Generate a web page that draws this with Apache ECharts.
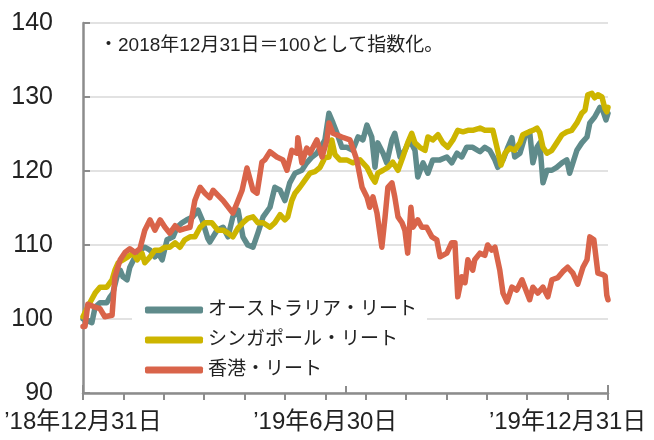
<!DOCTYPE html>
<html>
<head>
<meta charset="utf-8">
<script src="https://cdn.jsdelivr.net/npm/echarts@6/dist/echarts.min.js"></script>
<style>
  html, body { margin: 0; padding: 0; background: #fff; }
  #chart { width: 654px; height: 440px; }
</style>
</head>
<body>
<div id="chart"></div>
<script>
// x = months since 2018/12/31, y = index (2018/12/31 = 100)
var seriesNames = ['オーストラリア・リート', 'シンガポール・リート', '香港・リート'];
var seriesColors = ['#5f8b8b', '#cdb500', '#d9644a'];

var australia = [
  [0,100],[0.05,99.9],[0.22,99.5],[0.30,101.6],[0.42,102.2],[0.59,102.2],[0.67,103],[0.74,103.5],
  [0.84,105.7],[0.92,106.6],[0.99,105.7],[1.09,105.3],[1.16,107],[1.29,108.4],[1.41,109.3],[1.53,109.7],
  [1.66,109.3],[1.78,108.4],[1.86,108.9],[1.96,108],[2.08,110.7],[2.23,111.1],[2.33,112.4],[2.45,113],
  [2.57,113.4],[2.72,113.8],[2.85,114.7],[2.95,113.4],[3.09,110.9],[3.14,110.4],[3.32,112],[3.47,112.4],
  [3.59,111.1],[3.71,113.8],[3.84,114.7],[3.96,111.1],[4.08,110],[4.21,109.7],[4.33,111.6],[4.46,113.8],
  [4.63,115.1],[4.75,117.8],[4.88,117.4],[5.00,116],[5.12,118.4],[5.25,119.7],[5.42,120.1],[5.54,121.1],
  [5.67,121.9],[5.79,122.4],[5.92,123.5],[5.99,124.2],[6.09,127.8],[6.19,126.5],[6.29,125.1],[6.41,123.2],
  [6.53,123.2],[6.68,122.8],[6.81,124.6],[6.93,124.2],[7.03,126.2],[7.15,124.6],[7.23,120.5],[7.30,123.8],
  [7.43,122.4],[7.52,121.1],[7.65,124.2],[7.72,125.1],[7.85,121.9],[7.97,122.8],[8.09,124.2],[8.22,122.8],
  [8.29,119.2],[8.42,121.1],[8.54,119.7],[8.66,121.5],[8.84,121.5],[9.01,121.9],[9.13,121.1],[9.26,122.4],
  [9.38,121.9],[9.50,123.2],[9.65,123.2],[9.83,122.6],[9.95,123.2],[10.07,122.8],[10.20,121.5],[10.27,120.5],
  [10.40,121.5],[10.52,123.2],[10.62,124.5],[10.69,121.9],[10.82,122.4],[10.94,124.6],[11.06,125.3],[11.14,121.1],
  [11.24,123.2],[11.31,123.8],[11.39,118.4],[11.49,120.1],[11.61,120.1],[11.73,120.5],[11.86,121.1],[11.98,121.5],
  [12.05,119.7],[12.13,121.1],[12.23,122.8],[12.35,123.8],[12.48,124.6],[12.55,126.5],[12.67,127.3],[12.80,128.6],
  [12.87,128.2],[12.95,126.9],[13.0,127.8]
];

var singapore = [
  [0,100.3],[0.17,102.2],[0.30,103.5],[0.42,104.3],[0.59,104.3],[0.72,105.3],[0.79,106.6],[0.87,107.6],
  [0.99,108],[1.11,108.4],[1.24,108.9],[1.34,108],[1.46,108.9],[1.53,107.6],[1.66,108.4],[1.78,109.3],
  [1.91,109.3],[2.03,109.7],[2.15,109.7],[2.28,110.3],[2.40,109.7],[2.52,110.7],[2.65,111.1],[2.77,111.1],
  [2.90,112.4],[3.02,113],[3.19,113],[3.34,112],[3.47,112],[3.59,111.6],[3.71,111.1],[3.84,112.3],
  [3.96,113],[4.08,113.6],[4.21,113.8],[4.33,113],[4.46,113],[4.63,112.4],[4.75,113],[4.88,114.1],
  [5.00,113.4],[5.07,113.8],[5.17,116],[5.25,117],[5.37,117.8],[5.50,118.8],[5.62,119.7],[5.74,119.9],
  [5.87,120.5],[5.99,121.8],[6.09,121.9],[6.16,124.2],[6.24,122.2],[6.36,121.5],[6.53,121.5],[6.68,121.1],
  [6.86,121.5],[7.03,120.5],[7.15,119.2],[7.23,118.5],[7.30,119.7],[7.43,120.1],[7.55,120.5],[7.67,121.2],
  [7.80,120.1],[7.92,121.9],[8.04,123.8],[8.14,125.1],[8.22,123.8],[8.34,123.2],[8.47,122.8],[8.54,124.6],
  [8.66,124.2],[8.79,124.9],[8.91,123.8],[9.03,123.2],[9.16,124.2],[9.28,125.5],[9.41,125.3],[9.53,125.5],
  [9.65,125.5],[9.83,125.8],[9.95,125.5],[10.07,125.5],[10.15,125.5],[10.25,123.2],[10.35,120.8],[10.45,122.4],
  [10.57,123.1],[10.69,122.8],[10.82,123.8],[10.89,124.9],[11.01,125.2],[11.14,125.5],[11.24,125.8],[11.31,125.2],
  [11.39,123.2],[11.49,122.4],[11.61,122.8],[11.73,123.8],[11.86,124.9],[11.98,125.3],[12.10,125.5],[12.23,126.5],
  [12.35,127.8],[12.43,128.2],[12.50,130.3],[12.60,130.5],[12.67,129.9],[12.75,130.3],[12.85,130],[12.92,128.5],
  [12.97,128],[13.0,128.6]
];

var hongkong = [
  [0,99],[0.05,99],[0.12,102],[0.30,101.6],[0.42,101.4],[0.54,100.3],[0.72,100.5],[0.79,105.7],
  [0.92,108],[1.04,109],[1.16,109.5],[1.29,109],[1.41,109.5],[1.53,112],[1.66,113.4],[1.78,112],
  [1.91,113.4],[2.03,112.4],[2.15,111.6],[2.28,112.6],[2.40,112],[2.52,112.2],[2.65,112.4],[2.77,116],
  [2.90,117.8],[3.02,117],[3.14,116.4],[3.22,117.4],[3.47,116],[3.71,114.3],[3.81,115.6],[3.94,117.4],
  [4.06,120.4],[4.21,117.4],[4.31,117],[4.43,121.2],[4.50,121.5],[4.63,122.6],[4.80,121.9],[4.95,121.5],
  [5.05,120.1],[5.17,122.8],[5.30,122.4],[5.32,124.5],[5.42,121.1],[5.54,123.1],[5.62,122.4],[5.79,124.2],
  [5.92,121.9],[6.04,124.2],[6.09,126.5],[6.19,125.1],[6.41,124.6],[6.61,124.2],[6.78,121.5],[6.91,117.8],
  [7.03,116.5],[7.10,115.1],[7.18,116.5],[7.28,114.3],[7.40,109.7],[7.48,113.8],[7.55,117.8],[7.65,118.4],
  [7.72,116.5],[7.80,113.8],[7.90,113],[7.97,112],[8.04,108.9],[8.12,115.1],[8.17,112.4],[8.29,113.4],
  [8.39,112.4],[8.51,112.4],[8.64,111.1],[8.76,110.7],[8.84,108.4],[9.01,108.9],[9.13,110.3],[9.21,110.3],
  [9.28,103],[9.38,105.7],[9.46,104.9],[9.53,108],[9.65,106.6],[9.70,108],[9.83,108.9],[9.95,108.6],
  [10.02,110],[10.12,109.3],[10.20,109.7],[10.32,106.6],[10.40,103.5],[10.50,102.3],[10.62,104.3],[10.74,103.9],
  [10.87,105.3],[10.94,104.3],[11.06,102.6],[11.14,104.3],[11.26,103.5],[11.39,104.3],[11.51,103],[11.61,105.3],
  [11.76,105.6],[11.88,106.4],[12.00,107],[12.13,106.2],[12.25,104.7],[12.38,107],[12.48,108],[12.55,111.1],
  [12.65,110.7],[12.75,106.2],[12.87,106],[12.93,105.8],[12.97,103.2],[13.0,102.6]
];

var xTickLabels = { 0: '’18年12月31日', 6: '’19年6月30日', 12: '’19年12月31日' };
var noteText = '・2018年12月31日＝100として指数化。';

var font = '"Liberation Sans", "Noto Sans CJK JP", sans-serif';
var axisGray = '#8c8c8c';

var chart = echarts.init(document.getElementById('chart'));

function makeLine(name, data, color) {
  return {
    name: name,
    type: 'line',
    data: data,
    symbol: 'none',
    smooth: false,
    color: color,
    lineStyle: { width: 5.5, color: color, cap: 'round', join: 'round' },
    emphasis: { disabled: true }
  };
}

chart.setOption({
  animation: false,
  grid: { left: 83, right: 46, top: 23, bottom: 47 },
  graphic: [{
    type: 'text',
    left: 99,
    top: 36,
    style: { text: noteText, font: '19px ' + font, fill: '#222' }
  }],
  legend: {
    orient: 'vertical',
    left: 132,
    top: 294,
    backgroundColor: '#fff',
    padding: [4, 10, 4, 13],
    itemGap: 6,
    itemWidth: 58,
    itemHeight: 7,
    icon: 'roundRect',
    selectedMode: false,
    textStyle: { fontSize: 19, fontFamily: font, color: '#222', lineHeight: 24 },
    data: seriesNames
  },
  xAxis: [{
    type: 'value',
    min: 0,
    max: 13,
    interval: 1,
    axisLine: { lineStyle: { color: axisGray, width: 2.5 } },
    axisTick: { show: true, length: 7, lineStyle: { color: axisGray, width: 2 } },
    splitLine: { show: false },
    axisLabel: {
      margin: 17,
      fontSize: 24,
      fontFamily: font,
      color: '#222',
      showMinLabel: true,
      showMaxLabel: true,
      formatter: function (v) {
        var k = Math.round(v);
        return (Math.abs(v - k) < 1e-6 && xTickLabels[k]) ? xTickLabels[k] : '';
      }
    }
  }, {
    type: 'value',
    position: 'bottom',
    min: 0,
    max: 12,
    interval: 6,
    axisLine: { show: false },
    axisTick: { show: true, inside: true, length: 8, lineStyle: { color: axisGray, width: 2 } },
    axisLabel: { show: false },
    splitLine: { show: false }
  }],
  yAxis: {
    type: 'value',
    min: 90,
    max: 140,
    interval: 10,
    axisLine: { show: true, lineStyle: { color: axisGray, width: 2.5 } },
    axisTick: { show: true, inside: true, length: 7, lineStyle: { color: axisGray, width: 2 } },
    splitLine: { show: true, lineStyle: { color: '#d9d9d9', width: 1.5 } },
    axisLabel: { margin: 30, fontSize: 25, fontFamily: font, color: '#222' }
  },
  series: [
    makeLine(seriesNames[0], australia, seriesColors[0]),
    makeLine(seriesNames[1], singapore, seriesColors[1]),
    makeLine(seriesNames[2], hongkong, seriesColors[2])
  ]
});
</script>
</body>
</html>
